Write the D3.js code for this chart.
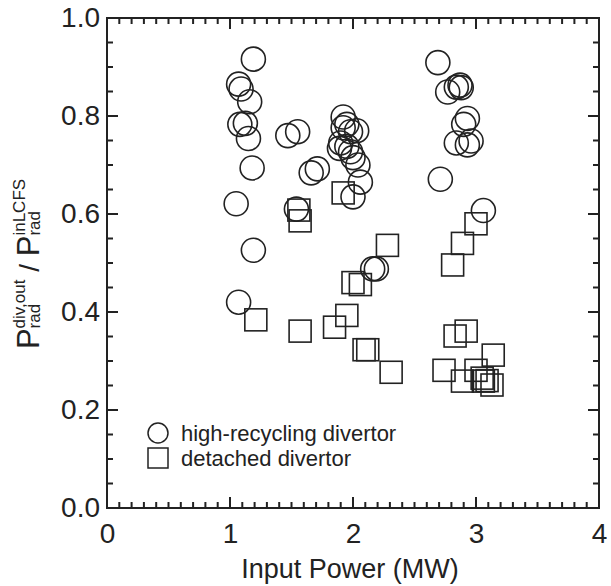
<!DOCTYPE html>
<html>
<head>
<meta charset="utf-8">
<script src="https://cdn.jsdelivr.net/npm/d3@7"></script>
<style>
  body { margin: 0; background: #fff; }
  svg { display: block; font-family: "Liberation Sans", Arial, sans-serif; }
</style>
</head>
<body>
<div id="chart"></div>
<script>
// high-recycling divertor (circles)
const hrPower = [1.19, 1.07, 1.09, 1.16, 1.08, 1.125, 1.15, 1.18, 1.05, 1.19, 1.07,
  1.47, 1.55, 1.66, 1.71, 1.54,
  1.92, 1.92, 1.95, 1.89, 1.98, 2.03, 1.95, 1.98, 2.00, 2.04, 2.06, 2.00, 1.90, 2.16, 2.19,
  2.69, 2.77, 2.84, 2.87, 2.88, 2.90, 2.93, 2.84, 2.93, 2.96, 2.71, 3.06];
const hrRatio = [0.916, 0.865, 0.855, 0.829, 0.783, 0.785, 0.754, 0.694, 0.621, 0.526, 0.420,
  0.760, 0.768, 0.684, 0.692, 0.610,
  0.798, 0.776, 0.783, 0.734, 0.768, 0.770, 0.738, 0.727, 0.715, 0.700, 0.665, 0.635, 0.745, 0.488, 0.488,
  0.909, 0.849, 0.859, 0.863, 0.858, 0.783, 0.795, 0.745, 0.741, 0.749, 0.671, 0.607];

// detached divertor (squares)
const detPower = [1.21, 1.57, 1.56, 1.57, 1.85, 1.95, 1.92, 2.00, 2.06, 2.09, 2.12, 2.28, 2.31,
  2.74, 2.81, 2.89, 3.00, 2.83, 2.92, 2.89, 3.00, 3.06, 3.09, 3.13, 3.14, 3.05];
const detRatio = [0.384, 0.361, 0.608, 0.586, 0.369, 0.393, 0.643, 0.460, 0.456, 0.323, 0.323, 0.536, 0.277,
  0.281, 0.496, 0.540, 0.580, 0.351, 0.361, 0.259, 0.281, 0.259, 0.260, 0.251, 0.312, 0.265];

const xMajor = [0, 1, 2, 3, 4];
const yMajor = [0, 0.2, 0.4, 0.6, 0.8, 1.0];
const legendLabels = ["high-recycling divertor", "detached divertor"];

const width = 611, height = 586;
const ink = "#222";

const svg = d3.select("#chart").append("svg")
  .attr("width", width)
  .attr("height", height);

const x = d3.scaleLinear().domain([0, 4]).range([107, 599]);
const y = d3.scaleLinear().domain([0, 1]).range([508, 18]);

const xMinor = d3.range(0, 4.001, 0.1).map(v => +v.toFixed(1));
const yMinor = d3.range(0, 1.001, 0.05).map(v => +v.toFixed(2));
const isMajor = (v, step) => Math.abs(v / step - Math.round(v / step)) < 1e-6;

const pL = x(0), pR = x(4), pB = y(0), pT = y(1);

// inward ticks on all four sides, as one path
const tickPath = d3.path();
xMinor.forEach(d => {
  const len = isMajor(d, 1) ? 11 : 6;
  tickPath.moveTo(x(d), pB); tickPath.lineTo(x(d), pB - len);
  tickPath.moveTo(x(d), pT); tickPath.lineTo(x(d), pT + len);
});
yMinor.forEach(d => {
  const len = isMajor(d, 0.2) ? 11 : 6;
  tickPath.moveTo(pL, y(d)); tickPath.lineTo(pL + len, y(d));
  tickPath.moveTo(pR, y(d)); tickPath.lineTo(pR - len, y(d));
});
svg.append("path")
  .attr("d", tickPath.toString())
  .attr("fill", "none")
  .attr("stroke", ink)
  .attr("stroke-width", 2);

// tick labels
svg.append("g").attr("transform", `translate(0,${pB})`)
  .call(d3.axisBottom(x).tickValues(xMajor).tickSize(0).tickPadding(15).tickFormat(d3.format("d")))
  .call(g => g.select(".domain").remove())
  .call(g => g.selectAll("text").attr("fill", ink).attr("font-size", 28)
    .attr("font-family", "'Liberation Sans', Arial, sans-serif"));
svg.append("g").attr("transform", `translate(${pL},0)`)
  .call(d3.axisLeft(y).tickValues(yMajor).tickSize(0).tickPadding(7).tickFormat(d3.format(".1f")))
  .call(g => g.select(".domain").remove())
  .call(g => g.selectAll("text").attr("fill", ink).attr("font-size", 28)
    .attr("font-family", "'Liberation Sans', Arial, sans-serif"));

// frame
svg.append("rect")
  .attr("x", pL).attr("y", pT)
  .attr("width", pR - pL).attr("height", pB - pT)
  .attr("fill", "none").attr("stroke", ink).attr("stroke-width", 2);

// x title
svg.append("text")
  .attr("x", (pL + pR) / 2 - 3)
  .attr("y", 578)
  .attr("text-anchor", "middle")
  .attr("font-size", 27)
  .attr("fill", ink)
  .text("Input Power (MW)");

// y title, built piece by piece so super/subscripts stack
const yt = svg.append("g").attr("transform", "translate(39,264) rotate(-90)");
let cx = 0;
function piece(str, size, dy) {
  const t = yt.append("text").attr("x", cx).attr("y", dy)
    .attr("font-size", size).attr("fill", ink)
    .style("white-space", "pre").text(str);
  return t.node().getComputedTextLength();
}
function power(sup, sub) {
  cx += piece("P", 31, 0);
  const a = piece(sup, 17, -14);
  const b = piece(sub, 17, 1);
  cx += Math.max(a, b);
}
power("div,out", "rad");
cx += piece(" / ", 28, 0);
power("inLCFS", "rad");
yt.selectAll("text").attr("x", function() { return +d3.select(this).attr("x") - cx / 2; });

// data
const pts = svg.append("g").attr("fill", "none").attr("stroke", ink).attr("stroke-width", 1.6);
pts.selectAll("circle")
  .data(d3.range(hrPower.length))
  .join("circle")
  .attr("cx", i => x(hrPower[i]))
  .attr("cy", i => y(hrRatio[i]))
  .attr("r", 12);

const s = 22;
pts.selectAll("rect")
  .data(d3.range(detPower.length))
  .join("rect")
  .attr("x", i => x(detPower[i]) - s / 2)
  .attr("y", i => y(detRatio[i]) - s / 2)
  .attr("width", s)
  .attr("height", s);

// legend
const lg = svg.append("g").attr("transform", "translate(158,433)");
lg.append("circle").attr("r", 10).attr("fill", "none").attr("stroke", ink).attr("stroke-width", 1.5);
lg.append("rect").attr("x", -10).attr("y", 15).attr("width", 20).attr("height", 20)
  .attr("fill", "none").attr("stroke", ink).attr("stroke-width", 1.5);
lg.selectAll("text")
  .data(legendLabels)
  .join("text")
  .attr("x", 23)
  .attr("y", (d, i) => i * 25 + 8)
  .attr("font-size", 22)
  .attr("fill", ink)
  .text(d => d);
</script>
</body>
</html>
